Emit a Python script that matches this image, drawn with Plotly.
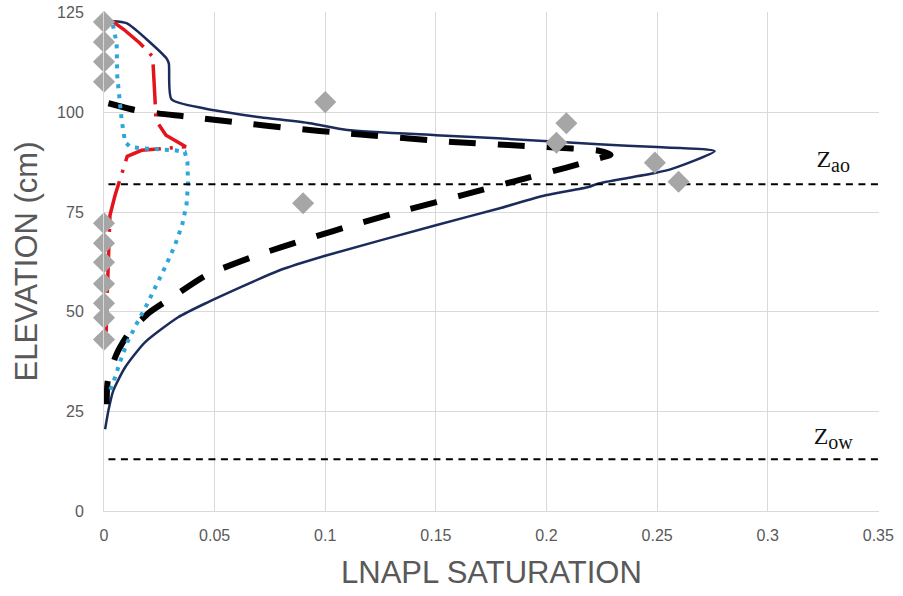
import plotly.graph_objects as go

# Data (LNAPL saturation vs elevation, cm)
model_a_sat = [0.004, 0.0102, 0.0282, 0.0293, 0.0305, 0.0455, 0.068, 0.093, 0.11, 0.15,
               0.178, 0.2236, 0.25, 0.276, 0.257, 0.249, 0.2236, 0.219, 0.1996, 0.1785,
               0.15, 0.1004, 0.0794, 0.0455, 0.0335, 0.0185, 0.0095, 0.0042, 0.002, 0.0005]
model_a_elev = [122.9, 122.4, 113.6, 112.3, 103.3, 101.0, 99.0, 97.3, 95.6, 94.3,
                93.5, 92.0, 91.3, 90.3, 85.9, 84.8, 82.2, 81.3, 79.2, 75.9,
                71.7, 64.1, 60.4, 52.0, 48.6, 42.3, 36.0, 30.2, 25.2, 20.5]

model_b_sat = [0.002, 0.014, 0.025, 0.037, 0.06, 0.085, 0.109, 0.1575, 0.183, 0.2, 0.2236,
               0.229, 0.222, 0.2086, 0.1845, 0.1616, 0.138, 0.1147, 0.0917, 0.0688, 0.046,
               0.0305, 0.0207, 0.0117, 0.0057, 0.0017, 0.0012]
model_b_elev = [102.3, 100.6, 99.7, 99.0, 97.5, 96.0, 94.8, 92.6, 91.8, 91.3, 90.4,
                89.4, 88.2, 86.1, 82.6, 79.2, 75.7, 72.1, 68.2, 64.1, 59.1,
                53.5, 49.9, 45.0, 39.4, 32.7, 26.8]

model_c_sat = [0.004, 0.009, 0.016, 0.022, 0.023, 0.0235, 0.028, 0.037, 0.028, 0.017,
               0.0105, 0.005, 0.0027, 0.002, 0.0015, 0.001]
model_c_elev = [122.8, 120.8, 117.5, 114.0, 104.0, 98.0, 94.3, 91.4, 91.0, 90.5,
                89.0, 79.2, 74.2, 65.0, 55.0, 45.0]

model_d_sat = [0.004, 0.0057, 0.006, 0.0072, 0.008, 0.0095, 0.0117, 0.017, 0.032, 0.0365,
               0.0377, 0.038, 0.0373, 0.0353, 0.032, 0.028, 0.0237, 0.0192, 0.0143, 0.0105,
               0.0069, 0.0053, 0.0027]
model_d_elev = [122.0, 117.4, 109.0, 101.4, 98.0, 92.6, 91.4, 91.0, 90.5, 90.1,
                87.6, 82.2, 76.9, 71.7, 66.6, 61.6, 56.6, 51.6, 46.5, 42.3,
                36.9, 34.0, 30.2]

obs_sat = [0, 0, 0, 0, 0, 0, 0, 0, 0, 0, 0, 0.1, 0.09, 0.209, 0.2045, 0.249, 0.2597]
obs_elev = [122.7, 117.7, 112.7, 107.7, 72.2, 67.2, 62.4, 57.0, 52.1, 48.5, 43.0,
            102.6, 77.2, 97.3, 92.4, 87.4, 82.6]

z_ao = 82.0
z_ow = 13.0
ref_x = [0.002, 0.35]
label_x = 0.3296
labels = ["Z<sub><span style='font-size:20px'>ao</span></sub>",
          "Z<sub><span style='font-size:20px'>ow</span></sub>"]

x_ticks = [0, 0.05, 0.1, 0.15, 0.2, 0.25, 0.3, 0.35]
x_tick_text = ["0", "0.05", "0.1", "0.15", "0.2", "0.25", "0.3", "0.35"]
y_ticks = [0, 25, 50, 75, 100, 125]

fig = go.Figure()

fig.add_trace(go.Scatter(x=model_a_sat, y=model_a_elev, mode="lines",
                         line=dict(color="#1b2c5c", width=2.5, shape="spline", smoothing=0.6),
                         showlegend=False))
fig.add_trace(go.Scatter(x=model_b_sat, y=model_b_elev, mode="lines",
                         line=dict(color="#000000", width=6, dash="27px,22px",
                                   shape="spline", smoothing=0.6),
                         showlegend=False))
fig.add_trace(go.Scatter(x=model_c_sat, y=model_c_elev, mode="lines",
                         line=dict(color="#e3141b", width=3.5, dash="40px,9px,3px,9px"),
                         showlegend=False))
fig.add_trace(go.Scatter(x=model_d_sat, y=model_d_elev, mode="lines",
                         line=dict(color="#2ea6d8", width=4, dash="4px,6px"),
                         showlegend=False))
fig.add_trace(go.Scatter(x=ref_x, y=[z_ao, z_ao], mode="lines",
                         line=dict(color="#000000", width=2, dash="7px,5.5px"),
                         showlegend=False))
fig.add_trace(go.Scatter(x=ref_x, y=[z_ow, z_ow], mode="lines",
                         line=dict(color="#000000", width=2, dash="7px,5.5px"),
                         showlegend=False))
fig.add_trace(go.Scatter(x=obs_sat, y=obs_elev, mode="markers",
                         marker=dict(symbol="diamond", size=17, color="#a6a6a6",
                                     line=dict(width=0)),
                         cliponaxis=False, showlegend=False))

fig.add_trace(go.Scatter(x=[label_x, label_x], y=[z_ao + 5.8, z_ow + 5.4], mode="text",
                         text=labels,
                         textfont=dict(family="Liberation Serif, DejaVu Serif, serif",
                                       size=24, color="#111111"),
                         cliponaxis=False, showlegend=False))

axis_font = dict(family="Liberation Sans, Arial, sans-serif", size=16, color="#595959")
title_font = dict(family="Liberation Sans, Arial, sans-serif", size=31, color="#595959")

fig.update_layout(
    width=903, height=596,
    margin=dict(l=104, r=24, t=12, b=85, autoexpand=False),
    paper_bgcolor="white", plot_bgcolor="white",
    hovermode=False,
    xaxis=dict(range=[0, 0.3503], tickvals=x_ticks, ticktext=x_tick_text,
               showgrid=True, gridcolor="#d9d9d9", gridwidth=1,
               showline=True, linecolor="#d9d9d9", linewidth=1,
               zeroline=False, ticks="outside", ticklen=10, tickcolor="rgba(0,0,0,0)",
               tickfont=axis_font, ticklabeloverflow="allow", automargin=False,
               fixedrange=True),
    yaxis=dict(range=[0, 125.2], tickvals=y_ticks,
               showgrid=True, gridcolor="#d9d9d9", gridwidth=1,
               showline=True, linecolor="#d9d9d9", linewidth=1,
               zeroline=False, ticks="outside", ticklen=16, tickcolor="rgba(0,0,0,0)",
               tickfont=axis_font, ticklabeloverflow="allow", automargin=False,
               fixedrange=True),
    annotations=[
        dict(text="LNAPL SATURATION", xref="paper", yref="paper", x=0.5, y=0,
             xanchor="center", yanchor="middle", yshift=-61, showarrow=False,
             font=title_font),
        dict(text="ELEVATION (cm)", xref="paper", yref="paper", x=0, y=0.5,
             xanchor="center", yanchor="middle", xshift=-78, textangle=-90,
             showarrow=False, font=title_font),
    ],
)

# Remove the browser's default 8px body margin so the 903x596 figure fills the window.
fig.write_html("out.html",
               config={"displayModeBar": False},
               post_script="document.body.style.margin='0px';"
                           "document.documentElement.style.overflow='hidden';")
